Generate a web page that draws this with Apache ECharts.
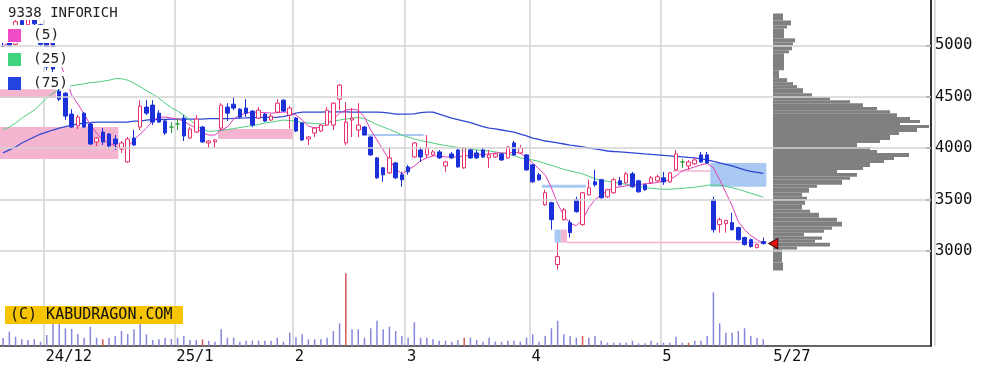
<!DOCTYPE html>
<html><head><meta charset="utf-8">
<script src="https://cdn.jsdelivr.net/npm/echarts@6/dist/echarts.min.js"></script>
<style>html,body{margin:0;padding:0;background:#fff}#c{width:988px;height:368px}</style>
</head><body><div id="c"></div>
<script>
// ---------------- DATA ----------------
const dates = [
'2024-11-21','2024-11-22','2024-11-25','2024-11-26','2024-11-27','2024-11-28','2024-11-29',
'2024-12-02','2024-12-03','2024-12-04','2024-12-05','2024-12-06','2024-12-09','2024-12-10','2024-12-11','2024-12-12','2024-12-13',
'2024-12-16','2024-12-17','2024-12-18','2024-12-19','2024-12-20','2024-12-23','2024-12-24','2024-12-25','2024-12-26','2024-12-27','2024-12-30',
'2025-01-06','2025-01-07','2025-01-08','2025-01-09','2025-01-10','2025-01-14','2025-01-15','2025-01-16','2025-01-17',
'2025-01-20','2025-01-21','2025-01-22','2025-01-23','2025-01-24','2025-01-27','2025-01-28','2025-01-29','2025-01-30','2025-01-31',
'2025-02-03','2025-02-04','2025-02-05','2025-02-06','2025-02-07','2025-02-10','2025-02-12','2025-02-13','2025-02-14',
'2025-02-17','2025-02-18','2025-02-19','2025-02-20','2025-02-21','2025-02-25','2025-02-26','2025-02-27','2025-02-28',
'2025-03-03','2025-03-04','2025-03-05','2025-03-06','2025-03-07','2025-03-10','2025-03-11','2025-03-12','2025-03-13','2025-03-14',
'2025-03-17','2025-03-18','2025-03-19','2025-03-21','2025-03-24','2025-03-25','2025-03-26','2025-03-27','2025-03-28','2025-03-31',
'2025-04-01','2025-04-02','2025-04-03','2025-04-04','2025-04-07','2025-04-08','2025-04-09','2025-04-10','2025-04-11',
'2025-04-14','2025-04-15','2025-04-16','2025-04-17','2025-04-18','2025-04-21','2025-04-22','2025-04-23','2025-04-24','2025-04-25',
'2025-04-28','2025-04-30','2025-05-01','2025-05-02','2025-05-07','2025-05-08','2025-05-09',
'2025-05-12','2025-05-13','2025-05-14','2025-05-15','2025-05-16','2025-05-19','2025-05-20','2025-05-21','2025-05-22','2025-05-23',
'2025-05-26','2025-05-27'];

const openP = [4990,5050,5010,5240,5200,5260,5200,5040,5020,4555,4535,4332,4216,4341,4235,4061,4157,4138,4090,4002,3867,4099,4206,4400,4419,4341,4264,4206,
4235,4293,4099,4157,4206,4051,4061,4196,4400,4428,4380,4390,4361,4293,4332,4274,4351,4467,4322,
4293,4245,4090,4148,4167,4225,4225,4477,4051,4274,4177,4206,4109,3906,3809,3760,3857,3741,
3818,3915,3983,3935,3935,3964,3828,3944,3983,3809,3983,3954,3983,3906,3915,3944,3906,4051,3954,3935,
3838,3741,3450,3470,2869,3305,3276,3499,3257,3547,3673,3693,3528,3567,3683,3663,3751,3683,3644,3663,3683,
3712,3673,3789,3867,3828,3848,3935,3935,3499,3257,3267,3276,3228,3131,3111,3034,3092];
const closeP = [4960,5000,5230,5200,5250,5210,5010,4790,4770,4477,4312,4206,4303,4206,4041,4099,4061,4022,4041,4051,4090,4031,4409,4341,4254,4254,4148,4206,
4235,4119,4187,4283,4061,4070,4080,4419,4341,4390,4303,4341,4225,4370,4264,4312,4438,4361,4390,
4167,4080,4109,4196,4225,4370,4438,4613,4254,4293,4225,4128,3935,3712,3741,3906,3712,3693,
3770,4051,3915,4002,3964,3906,3867,3906,3818,4002,3906,3906,3915,3935,3944,3886,4012,3935,4002,3789,
3673,3693,3567,3305,2947,3402,3179,3383,3567,3615,3644,3518,3596,3693,3644,3751,3625,3576,3596,3712,3722,
3673,3760,3944,3867,3867,3886,3867,3857,3208,3305,3296,3208,3111,3063,3044,3063,3073];
const lowP = [4930,4980,5000,5180,5190,5190,4990,4760,4740,4458,4274,4196,4187,4196,4031,4022,4031,3993,3983,3954,3857,4022,4177,4322,4225,4245,4128,4148,
4177,4070,4090,4148,4051,4002,4002,4177,4264,4370,4293,4303,4206,4283,4254,4264,4341,4351,4190,
4157,4070,4031,4109,4157,4216,4177,4370,4031,4109,4109,4138,3925,3702,3673,3750,3702,3625,
3741,3906,3867,3906,3925,3896,3770,3896,3809,3799,3896,3896,3906,3809,3906,3877,3896,3925,3944,3780,
3663,3683,3441,3208,2821,3296,3131,3373,3247,3538,3625,3509,3518,3557,3635,3654,3615,3567,3586,3654,3673,
3644,3663,3780,3809,3789,3838,3857,3848,3179,3179,3179,3199,3102,3053,3034,3024,3063];
const highP = [5040,5080,5260,5300,5320,5290,5210,5060,5030,4584,4545,4380,4322,4351,4245,4109,4196,4148,4128,4070,4109,4177,4467,4467,4467,4370,4274,4254,
4293,4322,4206,4322,4216,4080,4090,4438,4438,4496,4390,4477,4370,4400,4341,4332,4477,4477,4409,
4303,4254,4119,4206,4235,4400,4448,4622,4448,4390,4438,4216,4118,3915,3818,4012,3867,3770,
3838,4061,4012,4128,3983,3983,3877,3964,3993,4012,3993,3983,4002,3983,3954,3954,4022,4070,4031,3944,
3848,3760,3596,3480,3082,3421,3305,3528,3576,3693,3789,3703,3606,3712,3722,3770,3770,3693,3654,3731,3741,
3770,3770,3983,3896,3886,3906,3964,3964,3528,3325,3305,3373,3237,3140,3121,3073,3131];

const volume = [80,143,93,67,60,67,43,110,220,220,177,170,120,83,193,83,67,83,100,150,120,167,227,117,60,67,83,70,
83,100,60,60,67,53,43,167,83,83,43,53,53,53,53,53,83,43,133,
87,117,67,67,67,83,150,227,727,167,167,83,177,253,167,193,150,100,
83,237,83,83,67,53,53,43,60,83,83,60,43,83,43,43,53,53,43,83,
117,43,100,177,253,117,100,83,100,83,100,53,33,33,33,33,53,27,27,53,33,
33,33,93,33,33,53,53,100,537,227,133,133,150,177,100,83,67];
const volumeRedIdx = [16,32,55,74,93,110];

const ma5 = [5000,5020,5060,5100,5140,5180,5150,5068,4981,4845,4700,4516,4430,4332,4225,4148,4080,4051,4022,3983,4012,4080,4138,4196,4264,4303,4303,4293,
4283,4264,4225,4196,4148,4128,4128,4177,4206,4283,4322,4341,4351,4351,4346,4341,4346,4351,4351,
4322,4274,4216,4196,4206,4235,4283,4341,4370,4380,4370,4303,4177,4080,3983,3886,3799,3751,
3789,3828,3877,3906,3925,3925,3915,3915,3915,3925,3930,3935,3940,3944,3954,3954,3954,3959,3954,3906,
3857,3799,3741,3615,3460,3344,3267,3247,3305,3421,3499,3547,3586,3615,3625,3634,3644,3646,3654,3659,3668,
3678,3693,3731,3780,3799,3818,3838,3852,3810,3693,3567,3441,3286,3208,3150,3111,3073];
const ma25 = [4177,4206,4245,4293,4332,4370,4428,4487,4535,4574,4593,4608,4617,4627,4637,4642,4651,4661,4676,4676,4661,4632,4598,4559,4525,4487,4438,4395,
4361,4322,4274,4225,4187,4162,4167,4172,4182,4191,4201,4211,4220,4230,4245,4254,4264,4274,4269,
4264,4249,4245,4240,4235,4249,4264,4274,4283,4293,4298,4288,4259,4230,4206,4182,4157,4128,
4109,4090,4075,4061,4051,4036,4027,4017,4007,3998,3993,3983,3978,3973,3964,3954,3944,3930,3906,3896,
3886,3872,3852,3833,3814,3794,3780,3765,3751,3727,3702,3688,3678,3668,3659,3649,3639,3630,3620,3610,3605,
3601,3601,3605,3610,3615,3620,3630,3639,3644,3639,3630,3615,3601,3581,3562,3543,3523];
const ma75 = [3954,3983,4012,4051,4080,4109,4138,4157,4177,4196,4211,4225,4235,4245,4249,4254,4254,4254,4254,4254,4254,4264,4264,4274,4279,4279,4279,4283,
4283,4283,4283,4283,4283,4288,4288,4288,4288,4290,4293,4295,4298,4298,4300,4300,4303,4308,4322,
4341,4351,4351,4351,4351,4353,4353,4353,4353,4351,4351,4351,4351,4351,4349,4341,4332,4332,
4332,4334,4346,4351,4351,4332,4312,4293,4279,4264,4249,4230,4211,4196,4187,4177,4167,4157,4138,4119,
4099,4085,4070,4061,4051,4041,4031,4022,4012,4002,3993,3983,3973,3968,3964,3959,3954,3949,3944,3940,3935,
3930,3925,3920,3915,3910,3906,3896,3886,3872,3857,3843,3828,3809,3789,3775,3765,3755];
const maLabels = ['(5)','(25)','(75)'];

const tickDates  = ['2024-12-02','2025-01-06','2025-02-03','2025-03-03','2025-04-01','2025-05-01','2025-05-27'];
const tickLabels = ['24/12','25/1','2','3','4','5','5/27'];
const priceTicks = [3000,3500,4000,4500,5000];

// unfilled gap zones: [start index, end index, low, high]
const pinkBoxStart = [0, 0, 35, 90, 91, 108];
const pinkBoxEnd   = [8, 18, 46, 90, 122, 113];
const pinkBoxLow   = [4487, 3896, 4090, 3082, 3076, 3772];
const pinkBoxHigh  = [4574, 4206, 4187, 3208, 3090, 3786];
const blueBoxStart = [59, 87, 89, 114];
const blueBoxEnd   = [67, 93, 89, 122];
const blueBoxLow   = [4118, 3615, 3082, 3625];
const blueBoxHigh  = [4138, 3644, 3208, 3857];

// price-by-volume profile (bin edges, high to low)
const profileEdges = [5310,5242,5194,5165,5068,5029,5000,4952,4923,4758,4681,4642,4613,4584,4535,4496,4467,4438,4400,4370,4341,4303,4274,4245,4225,4196,4157,4128,4080,4051,4012,3983,3954,3915,3886,3857,3818,3789,3760,3722,3693,3644,3615,3567,3528,3499,3450,3402,3373,3325,3286,3238,3208,3179,3141,3111,3082,3044,3015,2889,2811];
const profileVol = [10,18,14,11,22,20,19,16,11,6,14,20,24,30,39,57,77,90,104,117,124,137,147,127,156,144,126,117,107,84,97,104,136,121,111,97,90,64,84,77,69,44,36,29,34,32,29,37,46,64,69,59,51,31,49,42,57,24,9,10];

// ---------------- CHART ----------------
const MONO = '"DejaVu Sans Mono", "Liberation Mono", monospace';
const PMIN = 2077, PMAX = 5441;
const PAD = 27;
const cats = dates.concat(Array.from({length: PAD}, (_, k) => 'pad' + k));
const tickIdx = tickDates.map(d => dates.indexOf(d));
const monthIdx = tickIdx.slice(0, 6);
// month labels sit just right of the month boundary: anchor them on the previous band
const labelIdx = tickIdx.map((t, k) => k < monthIdx.length ? t - 1 : t);
const BAND = 6.242;
const GL = 42 - 7 * BAND;
const GW = cats.length * BAND;

const candleData = dates.map((d, i) => {
  const item = {value: [openP[i], closeP[i], lowP[i], highP[i]]};
  if (openP[i] === closeP[i]) item.itemStyle = {color:'#2b9b3c', color0:'#2b9b3c', borderColor:'#2b9b3c', borderColor0:'#2b9b3c', borderColorDoji:'#2b9b3c'};
  return item;
});
const volData = volume.map((v, i) => volumeRedIdx.includes(i) ? {value: v, itemStyle: {color: '#d25a5a'}} : v);
const pinkData = pinkBoxStart.map((s, k) => [s, pinkBoxEnd[k], pinkBoxLow[k], pinkBoxHigh[k]]);
const blueData = blueBoxStart.map((s, k) => [s, blueBoxEnd[k], blueBoxLow[k], blueBoxHigh[k]]);
const profData = profileVol.map((v, k) => [profileEdges[k + 1], profileEdges[k], v]);

function boxRender(fill) {
  return function (params, api) {
    const s = api.value(0), e = api.value(1), lo = api.value(2), hi = api.value(3);
    const a = api.coord([s, hi]), b = api.coord([e, lo]);
    const bw = api.size([1, 0])[0];
    return {type: 'rect', shape: {x: a[0] - bw / 2, y: a[1], width: b[0] - a[0] + bw, height: Math.max(1, b[1] - a[1])}, style: {fill: fill}};
  };
}

const maColors = ['#e040b8', '#4cce7e', '#2f47d2'];
const legendSq = ['#f04cc6', '#3ed47e', '#2346e2'];

const graphics = [
  {type:'rect', z:100, silent:true, shape:{x:0, y:0, width:128, height:20}, style:{fill:'#fff'}},
  {type:'text', z:101, silent:true, style:{text:'9338 INFORICH', x:8, y:13, font:'14px ' + MONO, fill:'#222', verticalAlign:'middle'}},
];
const rowY = [25, 47, 72], rowH = [18, 20, 17], rowW = [62, 70, 70], rowC = [35.5, 59.5, 83.5];
maLabels.forEach((lab, k) => {
  graphics.push({type:'rect', z:100, silent:true, shape:{x:0, y:rowY[k], width:rowW[k], height:rowH[k]}, style:{fill:'#fff'}});
  graphics.push({type:'rect', z:101, silent:true, shape:{x:8, y:rowC[k] - 6.5, width:13, height:13}, style:{fill:legendSq[k]}});
  graphics.push({type:'text', z:101, silent:true, style:{text:lab, x:33, y:rowC[k], font:'14.5px ' + MONO, fill:'#222', verticalAlign:'middle'}});
});
graphics.push({type:'rect', z:100, silent:true, shape:{x:5, y:306, width:178, height:18}, style:{fill:'#f6c400'}});
graphics.push({type:'text', z:101, silent:true, style:{text:'(C) KABUDRAGON.COM', x:10, y:315.5, font:'15px ' + MONO, fill:'#111', verticalAlign:'middle'}});

const option = {
  animation: false,
  backgroundColor: '#fff',
  grid: [
    {left: GL, top: 0, width: GW, height: 346},
    {left: GL, top: 0, width: GW, height: 346},
    {left: 773, top: 0, width: 158, height: 346},
    {left: 0, top: 0, width: 931, height: 346}
  ],
  xAxis: [
    {type:'category', gridIndex:0, data:cats, boundaryGap:true,
     axisLine:{show:false}, axisTick:{show:false},
     axisLabel:{show:true, interval:(i) => labelIdx.includes(i), align:'left', margin:3,
       fontFamily:MONO, fontSize:15.5, color:'#111',
       formatter:(v, i) => { const k = labelIdx.indexOf(i); if (k < 0) return ''; return (k === labelIdx.length - 1 ? '{e|' : '{m|') + tickLabels[k] + '}'; },
       rich:{
         m:{padding:[0,0,0,5], fontFamily:MONO, fontSize:15.5, color:'#111'},
         e:{padding:[0,0,0,10], fontFamily:MONO, fontSize:15.5, color:'#111'}}},
     splitLine:{show:true, interval:(i) => monthIdx.includes(i), lineStyle:{color:'#d3d3d3', width:1.5}}},
    {type:'category', gridIndex:1, data:cats, boundaryGap:true, show:false},
    {type:'value', gridIndex:2, min:0, max:158, show:false},
    {type:'value', gridIndex:3, min:0, max:1, axisLine:{show:true, onZero:false, lineStyle:{color:'#333', width:1.5}},
     axisTick:{show:false}, axisLabel:{show:false}, splitLine:{show:false}}
  ],
  yAxis: [
    {type:'value', gridIndex:0, min:PMIN, max:PMAX, show:false},
    {type:'value', gridIndex:1, min:0, max:3460, show:false},
    {type:'value', gridIndex:2, min:PMIN, max:PMAX, show:false},
    {type:'value', gridIndex:3, min:PMIN, max:PMAX, position:'right', splitNumber:7,
     axisLine:{show:true, onZero:false, lineStyle:{color:'#333', width:2}},
     axisTick:{show:true, inside:true, length:5, customValues:priceTicks, lineStyle:{color:'#333', width:1.5}},
     axisLabel:{show:true, customValues:priceTicks, margin:4, fontFamily:MONO, fontSize:15.5, color:'#111',
       formatter:(v) => priceTicks.includes(v) ? String(v) : ''},
     splitLine:{show:false}}
  ],
  graphic: graphics,
  series: [
    {type:'line', xAxisIndex:3, yAxisIndex:3, data:[], silent:true, z:0,
     markLine:{silent:true, symbol:['none','none'], label:{show:false}, animation:false,
       lineStyle:{color:'#d3d3d3', width:1.5, type:'solid'},
       data: priceTicks.map(v => ({yAxis: v}))}},
    {type:'custom', name:'gapUp', xAxisIndex:0, yAxisIndex:0, z:1, silent:true, renderItem: boxRender('#f5b5d0'),
     encode:{x:[0,1], y:[2,3]}, data: pinkData},
    {type:'custom', name:'gapDown', xAxisIndex:0, yAxisIndex:0, z:1, silent:true, renderItem: boxRender('#a9c9f2'),
     encode:{x:[0,1], y:[2,3]}, data: blueData},
    {type:'bar', name:'volume', xAxisIndex:1, yAxisIndex:1, barWidth:1.5, z:2, silent:true,
     itemStyle:{color:'#8686dc'}, data: volData},
    {type:'custom', name:'profile', xAxisIndex:2, yAxisIndex:2, z:2, silent:true,
     renderItem:(params, api) => {
       const lo = api.value(0), hi = api.value(1), v = api.value(2);
       const a = api.coord([0, hi]), b = api.coord([v, lo]);
       return {type:'rect', shape:{x:a[0], y:a[1], width:b[0] - a[0], height:b[1] - a[1]}, style:{fill:'#808080'}};
     },
     encode:{x:2, y:[0,1]}, data: profData},
    {type:'line', name:'(75)', xAxisIndex:0, yAxisIndex:0, data:ma75, showSymbol:false, symbol:'none', z:3, silent:true,
     lineStyle:{color:maColors[2], width:1.3}},
    {type:'line', name:'(25)', xAxisIndex:0, yAxisIndex:0, data:ma25, showSymbol:false, symbol:'none', z:3, silent:true,
     lineStyle:{color:maColors[1], width:1}},
    {type:'line', name:'(5)', xAxisIndex:0, yAxisIndex:0, data:ma5, showSymbol:false, symbol:'none', z:3, silent:true,
     lineStyle:{color:maColors[0], width:1}},
    {type:'candlestick', name:'9338', xAxisIndex:0, yAxisIndex:0, barWidth:4, z:4, silent:true,
     itemStyle:{color:'#ffffff', color0:'#1b30d8', borderColor:'#e8306a', borderColor0:'#1b30d8', borderColorDoji:'#2b9b3c', borderWidth:1},
     data: candleData,
     markPoint:{silent:true, symbol:'triangle', symbolSize:[10,9], symbolRotate:90, symbolOffset:[10,0], animation:false,
       label:{show:false}, itemStyle:{color:'#e81414', borderColor:'#4a0000', borderWidth:1},
       data:[{coord:[dates[dates.length - 1], closeP[closeP.length - 1]]}]}}
  ]
};
const chart = echarts.init(document.getElementById('c'));
chart.setOption(option);
</script>
</body></html>
